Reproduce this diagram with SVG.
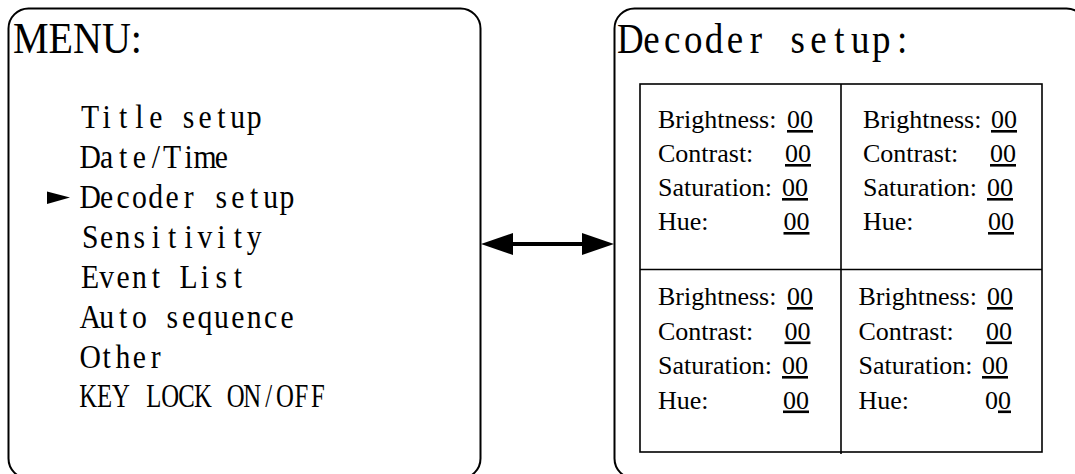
<svg xmlns="http://www.w3.org/2000/svg" width="1075" height="474" viewBox="0 0 1075 474">
<style>
.box{fill:#fff;stroke:#000;stroke-width:2}
.grid{fill:none;stroke:#000;stroke-width:1.6}
.mono{font-family:"Liberation Serif",serif;fill:#000;text-anchor:middle}
.item{font-size:33px}
.head{font-size:42px}
.title{font-family:"Liberation Serif",serif;font-size:45px;fill:#000}
.cell{font-family:"Liberation Serif",serif;font-size:26px;fill:#000}
.u{text-decoration:underline}
</style>
<defs>
<marker id="ah" markerUnits="userSpaceOnUse" markerWidth="32" markerHeight="22" refX="2" refY="11" orient="auto-start-reverse" viewBox="0 0 32 22">
<path d="M0,0 L32,11 L0,22 z" fill="#000"/>
</marker>
</defs>
<rect width="1075" height="474" fill="#fff"/>
<g id="menu">
<rect class="box" x="8.5" y="8.5" width="472" height="470" rx="20"/>
<text class="title" x="13" y="53" textLength="129" lengthAdjust="spacingAndGlyphs">MENU:</text>
<polygon points="47,191.5 70,197.5 47,204" fill="#000"/>
<g transform="scale(0.9 1)">
<text class="mono item" x="100.22 118.44 136.67 154.89 173.11 191.33 209.56 227.78 246 264.22 282.44" y="128">Title setup</text>
<text class="mono item" x="100.22 118.44 136.67 154.89 173.11 191.33 209.56 227.78 246" y="168">Date/Time</text>
<text class="mono item" x="100.22 118.44 136.67 154.89 173.11 191.33 209.56 227.78 246 264.22 282.44 300.67 318.89" y="208">Decoder setup</text>
<text class="mono item" x="100.22 118.44 136.67 154.89 173.11 191.33 209.56 227.78 246 264.22 282.44" y="248">Sensitivity</text>
<text class="mono item" x="100.22 118.44 136.67 154.89 173.11 191.33 209.56 227.78 246 264.22" y="288">Event List</text>
<text class="mono item" x="100.22 118.44 136.67 154.89 173.11 191.33 209.56 227.78 246 264.22 282.44 300.67 318.89" y="328">Auto sequence</text>
<text class="mono item" x="100.22 118.44 136.67 154.89 173.11" y="368">Other</text>
</g>
<g transform="scale(0.75 1)">
<text class="mono item" x="117.6 139.47 161.33 183.2 205.07 226.93 248.8 270.67 292.53 314.4 336.27 358.13 380 401.87 423.73" y="407">KEY LOCK ON/OFF</text>
</g>
</g>
<g id="decoder">
<rect class="box" x="614.5" y="8.5" width="472" height="470" rx="20"/>
<g transform="scale(0.88 1)">
<text class="mono head" x="716.42 740.17 763.92 787.67 811.42 835.17 858.92 882.67 906.42 930.17 953.92 977.67 1001.42 1025.17" y="53">Decoder setup:</text>
</g>
<rect class="grid" x="640" y="84" width="402" height="368"/>
<line class="grid" x1="640" y1="269.5" x2="1042" y2="269.5"/>
<line class="grid" x1="841" y1="84" x2="841" y2="454"/>
<g id="cell1">
<text class="cell" x="658" y="128">Brightness:</text><text class="cell u" x="787" y="128">00</text>
<text class="cell" x="658" y="162">Contrast:</text><text class="cell u" x="785" y="162">00</text>
<text class="cell" x="658" y="196">Saturation:</text><text class="cell u" x="782" y="196">00</text>
<text class="cell" x="658" y="230">Hue:</text><text class="cell u" x="783.5" y="230">00</text>
</g>
<g id="cell2">
<text class="cell" x="863" y="128">Brightness:</text><text class="cell u" x="991" y="128">00</text>
<text class="cell" x="863" y="162">Contrast:</text><text class="cell u" x="990" y="162">00</text>
<text class="cell" x="863" y="196">Saturation:</text><text class="cell u" x="987" y="196">00</text>
<text class="cell" x="863" y="230">Hue:</text><text class="cell u" x="988" y="230">00</text>
</g>
<g id="cell3">
<text class="cell" x="658" y="305">Brightness:</text><text class="cell u" x="787" y="305">00</text>
<text class="cell" x="658" y="339.5">Contrast:</text><text class="cell u" x="784.5" y="339.5">00</text>
<text class="cell" x="658" y="374">Saturation:</text><text class="cell u" x="782" y="374">00</text>
<text class="cell" x="658" y="408.5">Hue:</text><text class="cell u" x="783" y="408.5">00</text>
</g>
<g id="cell4">
<text class="cell" x="858.5" y="305">Brightness:</text><text class="cell u" x="987" y="305">00</text>
<text class="cell" x="858.5" y="339.5">Contrast:</text><text class="cell u" x="986" y="339.5">00</text>
<text class="cell" x="858.5" y="374">Saturation:</text><text class="cell u" x="982" y="374">00</text>
<text class="cell" x="858.5" y="408.5">Hue:</text><text class="cell" x="985" y="408.5">0<tspan class="u">0</tspan></text>
</g>
</g>
<g id="connectors">
<line x1="511" y1="244" x2="584" y2="244" stroke="#000" stroke-width="4" marker-start="url(#ah)" marker-end="url(#ah)"/>
</g>
</svg>
